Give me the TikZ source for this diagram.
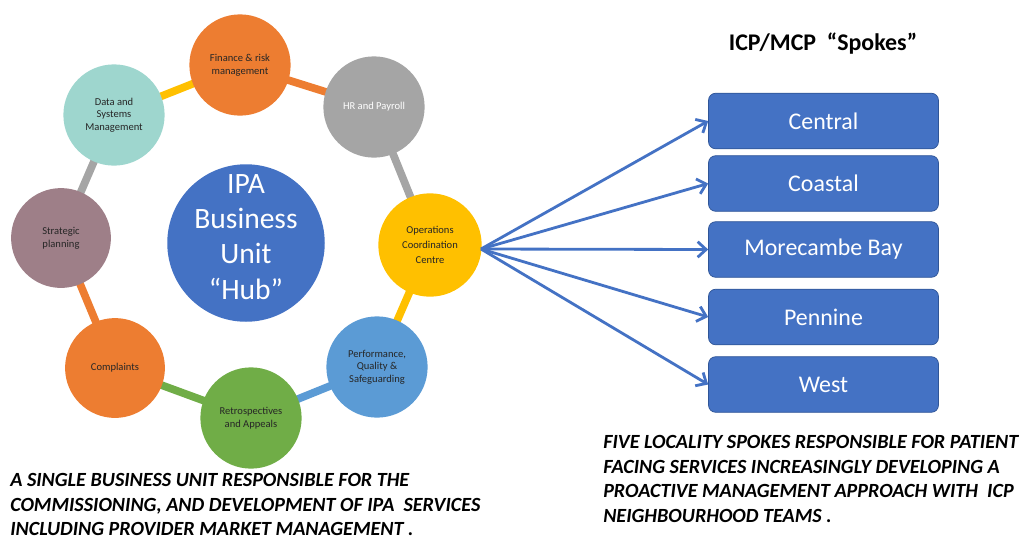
\documentclass[tikz,border=0pt]{standalone}
\usepackage{fontspec}
\setmainfont{Carlito}
\usetikzlibrary{arrows.meta,backgrounds}

\definecolor{hubblue}{HTML}{4472C4}
\definecolor{boxline}{HTML}{2F5597}
\definecolor{offorange}{HTML}{ED7D31}
\definecolor{offgray}{HTML}{A5A5A5}
\definecolor{offyellow}{HTML}{FFC000}
\definecolor{offblue}{HTML}{5B9BD5}
\definecolor{offgreen}{HTML}{70AD47}
\definecolor{offteal}{HTML}{9ED6CE}
\definecolor{offmauve}{HTML}{9E7F88}

\begin{document}
\begin{tikzpicture}[x=0.025cm,y=-0.025cm,
    office/.style={
        circle,
        minimum size=72pt,
        inner sep=1pt,
        align=center,
        text=black!85,
        font=\fontsize{7.5}{9}\selectfont
    },
    hub/.style={
        circle,
        fill=hubblue,
        minimum size=112pt,
        inner sep=0pt
    },
    ring/.style={
        line width=5.5pt
    },
    spokebox/.style={
        rectangle,
        rounded corners=5pt,
        fill=hubblue,
        draw=boxline,
        line width=0.5pt,
        minimum width=163.5pt,
        minimum height=39.5pt,
        text=white,
        font=\fontsize{17}{20}\selectfont
    },
    spoke/.style={
        hubblue,
        line width=2pt,
        -{Straight Barb[length=6pt,width=11pt,line width=2pt]}
    },
    caption/.style={
        anchor=north west,
        inner sep=0pt,
        align=left,
        font=\fontsize{14.3}{17.5}\selectfont\bfseries\itshape
    }
]
\path[use as bounding box] (0,0) rectangle (1027,541);

\node[hub] (hub) at (246,243) {};
\node[white, align=center, font=\fontsize{21}{25}\selectfont]
    (hubtext) at (246,237) {IPA\\Business\\Unit\\“Hub”};

\node[office, fill=offorange] (finance) at (240,65)
    {Finance \& risk\\management};
\node[office, fill=offgray, text=white] (hr) at (374,107)
    {HR and Payroll};
\node[office, fill=offyellow, minimum size=73.5pt,
      font=\fontsize{7.5}{10.5}\selectfont] (ops) at (430,245)
    {Operations\\Coordination\\Centre};
\node[office, fill=offblue] (perf) at (377,367)
    {Performance,\\Quality \&\\Safeguarding};
\node[office, fill=offgreen] (retro) at (251,418)
    {Retrospectives\\and Appeals};
\node[office, fill=offorange, minimum size=71pt] (compl) at (115,368)
    {Complaints};
\node[office, fill=offmauve, minimum size=71pt] (strat) at (61,238)
    {Strategic\\planning};
\node[office, fill=offteal] (data) at (114,115)
    {Data and\\Systems\\Management};

\begin{scope}[on background layer]
\draw[ring, offyellow] (data.center) -- (finance.center);
\draw[ring, offorange] (finance.center) -- (hr.center);
\draw[ring, offgray] (hr.center) -- (ops.center);
\draw[ring, offyellow] (ops.center) -- (perf.center);
\draw[ring, offblue] (perf.center) -- (retro.center);
\draw[ring, offgreen] (retro.center) -- (compl.center);
\draw[ring, offorange] (compl.center) -- (strat.center);
\draw[ring, offgray] (strat.center) -- (data.center);
\end{scope}

\node[font=\fontsize{17}{20}\selectfont\bfseries] (title) at (823,44)
    {ICP/MCP\ \ “Spokes”};

\node[spokebox] (central) at (823.5,121) {Central};
\node[spokebox] (coastal) at (823.5,183.5) {Coastal};
\node[spokebox] (morecambe) at (823.5,249.5) {Morecambe Bay};
\node[spokebox] (pennine) at (823.5,317) {Pennine};
\node[spokebox] (west) at (823.5,384.5) {West};

\coordinate (fan) at (481,249);

\draw[spoke] (fan) -- (central.west);
\draw[spoke] (fan) -- (coastal.west);
\draw[spoke] (fan) -- (morecambe.west);
\draw[spoke] (fan) -- (pennine.west);
\draw[spoke] (fan) -- (west.west);

\node[caption] (hubnote) at (10,473)
    {A SINGLE BUSINESS UNIT RESPONSIBLE FOR THE\\
     COMMISSIONING, AND DEVELOPMENT OF IPA\ \ SERVICES\\
     INCLUDING PROVIDER MARKET MANAGEMENT .};

\node[caption] (spokenote) at (603,435)
    {FIVE LOCALITY SPOKES RESPONSIBLE FOR PATIENT\\
     FACING SERVICES INCREASINGLY DEVELOPING A\\
     PROACTIVE MANAGEMENT APPROACH WITH\ \ ICP\\
     NEIGHBOURHOOD TEAMS .};
\end{tikzpicture}
\end{document}
